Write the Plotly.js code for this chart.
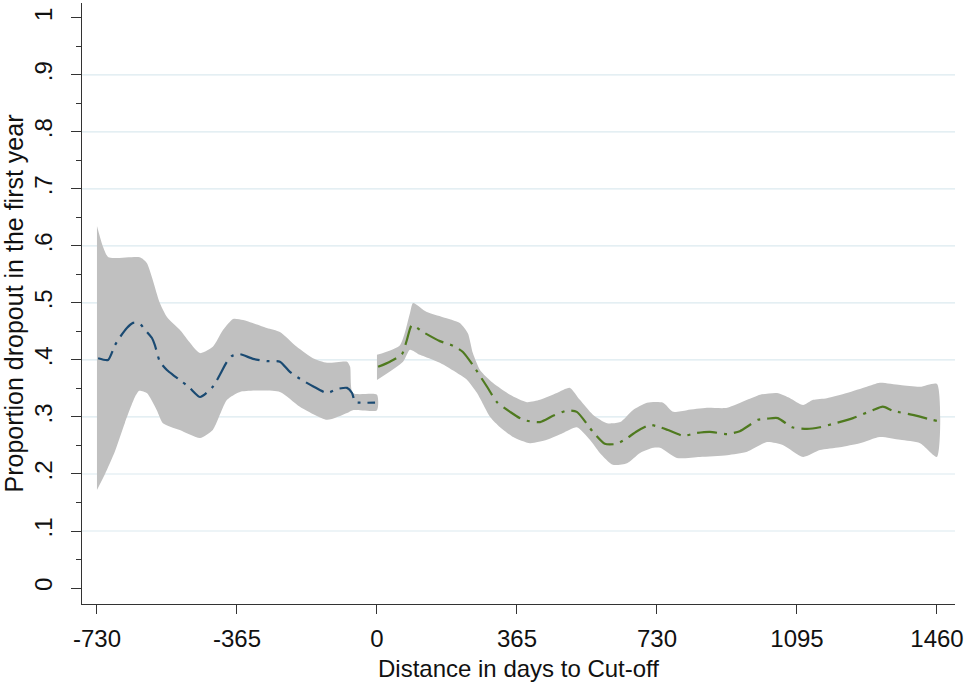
<!DOCTYPE html>
<html>
<head>
<meta charset="utf-8">
<script src="https://cdn.plot.ly/plotly-3.0.1.min.js"></script>
<style>html,body{margin:0;padding:0;background:#fff;}</style>
</head>
<body>
<div id="chart" style="width:969px;height:686px;"></div>
<script>
// ---- Data (days to cut-off, proportion dropout) ----
const leftUpperX = [-730,-715,-700,-618,-600,-566,-547,-514,-461,-428,-401,-375,-349,-287,-253,-209,-167,-130,-78,-70,-63,0];
const leftUpperY = [0.635,0.60,0.58,0.58,0.57,0.50,0.475,0.453,0.412,0.423,0.453,0.472,0.47,0.456,0.449,0.423,0.403,0.395,0.397,0.388,0.342,0.339];
const leftLowerX = [-730,-709,-683,-657,-631,-620,-600,-574,-558,-514,-461,-428,-391,-357,-253,-201,-130,-78,-63,0];
const leftLowerY = [0.172,0.20,0.24,0.29,0.335,0.346,0.342,0.312,0.289,0.277,0.263,0.277,0.33,0.344,0.344,0.318,0.295,0.307,0.312,0.312];
const leftMidX = [-727,-701,-683,-670,-652,-636,-620,-605,-587,-579,-566,-547,-532,-514,-488,-461,-428,-391,-378,-357,-323,-287,-253,-227,-201,-167,-130,-104,-78,-65,-57,-44,-5];
const leftMidY = [0.403,0.40,0.426,0.44,0.456,0.465,0.465,0.453,0.439,0.426,0.397,0.382,0.374,0.365,0.351,0.335,0.353,0.397,0.407,0.41,0.402,0.398,0.397,0.379,0.367,0.354,0.342,0.349,0.351,0.342,0.326,0.325,0.325];

const rightUpperX = [0,60,86,94,130,172,216,237,250,269,302,347,391,425,469,503,529,563,600,634,667,704,746,772,808,860,913,965,999,1043,1077,1111,1137,1173,1225,1277,1311,1364,1416,1460];
const rightUpperY = [0.409,0.426,0.482,0.50,0.484,0.475,0.465,0.447,0.412,0.382,0.36,0.339,0.326,0.33,0.342,0.351,0.33,0.304,0.289,0.291,0.312,0.325,0.325,0.309,0.312,0.316,0.316,0.33,0.339,0.342,0.333,0.321,0.33,0.333,0.342,0.353,0.36,0.356,0.353,0.358];
const rightLowerX = [0,68,86,112,164,209,235,261,295,321,355,399,443,485,521,555,581,615,652,686,720,738,782,842,913,965,1017,1058,1111,1155,1207,1259,1311,1364,1416,1460];
const rightLowerY = [0.365,0.397,0.418,0.409,0.395,0.377,0.365,0.342,0.30,0.282,0.265,0.254,0.26,0.272,0.282,0.26,0.237,0.216,0.219,0.237,0.246,0.246,0.228,0.23,0.233,0.239,0.256,0.251,0.23,0.242,0.247,0.254,0.265,0.26,0.254,0.23];
const rightMidX = [3,34,65,78,91,120,164,198,224,250,287,313,347,381,425,459,495,521,563,594,626,652,678,712,738,759,798,834,868,913,946,972,993,1017,1045,1082,1121,1155,1189,1241,1293,1319,1345,1408,1434,1460];
const rightMidY = [0.388,0.397,0.41,0.435,0.461,0.449,0.433,0.425,0.414,0.391,0.353,0.326,0.309,0.295,0.291,0.302,0.311,0.309,0.274,0.253,0.253,0.263,0.275,0.286,0.282,0.277,0.267,0.272,0.274,0.27,0.275,0.286,0.295,0.297,0.298,0.282,0.279,0.282,0.288,0.298,0.312,0.318,0.311,0.302,0.297,0.293];

// ---- Axis ticks ----
const xTickVals = [-730,-365,0,365,730,1095,1460];
const xTickText = ["-730","-365","0","365","730","1095","1460"];
const yTickVals = [0,0.1,0.2,0.3,0.4,0.5,0.6,0.7,0.8,0.9,1];
const yTickText = ["0",".1",".2",".3",".4",".5",".6",".7",".8",".9","1"];

const bandColor = '#c0c0c0';
const blue = '#1a4a72';
const green = '#4f7a1f';
const dashPat = '20px,7px,3px,7px';
const fontFam = '"Liberation Sans", Arial, sans-serif';

function band(ux, uy, lx, ly) {
  return {
    x: ux.concat(lx.slice().reverse()),
    y: uy.concat(ly.slice().reverse()),
    type: 'scatter', mode: 'lines', fill: 'toself',
    fillcolor: bandColor, line: {width: 0, color: bandColor, shape: 'spline', smoothing: 0.6},
    hoverinfo: 'skip', showlegend: false
  };
}
function mid(x, y, c) {
  return {x: x, y: y, type: 'scatter', mode: 'lines',
    line: {color: c, width: 2.2, dash: dashPat, shape: 'spline', smoothing: 0.6}, showlegend: false};
}

const traces = [
  band(leftUpperX, leftUpperY, leftLowerX, leftLowerY),
  band(rightUpperX, rightUpperY, rightLowerX, rightLowerY),
  mid(leftMidX, leftMidY, blue),
  mid(rightMidX, rightMidY, green)
];

const gridShapes = yTickVals.filter(v => v > 0 && v < 1).map(v => ({
  type: 'line', xref: 'paper', x0: 0, x1: 1, yref: 'y', y0: v, y1: v,
  line: {color: '#dbeaef', width: 1.2}, layer: 'below'
}));

const layout = {
  width: 969, height: 686,
  margin: {l: 82, r: 14, t: 3, b: 82, pad: 0},
  paper_bgcolor: '#ffffff', plot_bgcolor: '#ffffff',
  font: {family: fontFam, size: 24, color: '#111'},
  showlegend: false,
  shapes: gridShapes,
  xaxis: {
    range: [-769, 1507], tickmode: 'array', tickvals: xTickVals, ticktext: xTickText,
    ticks: 'outside', ticklen: 9, tickwidth: 1, tickcolor: '#333',
    showline: true, linecolor: '#333', linewidth: 1, showgrid: false, zeroline: false,
    ticklabelstandoff: 4,
    title: {text: 'Distance in days to Cut-off', font: {size: 24}, standoff: 9}
  },
  yaxis: {
    range: [-0.028, 1.026], tickmode: 'array', tickvals: yTickVals, ticktext: yTickText,
    tickangle: -90, ticks: 'outside', ticklen: 10, tickwidth: 1, tickcolor: '#333',
    minor: {tickmode: 'linear', tick0: 0, dtick: 0.05, ticks: 'outside', ticklen: 5, tickwidth: 1, tickcolor: '#333', showgrid: false},
    showline: true, linecolor: '#333', linewidth: 1, showgrid: false, zeroline: false,
    ticklabelstandoff: 9,
    title: {text: 'Proportion dropout in the first year', font: {size: 25}, standoff: 13}
  }
};

Plotly.newPlot('chart', traces, layout, {displayModeBar: false, staticPlot: true});
</script>
</body>
</html>
